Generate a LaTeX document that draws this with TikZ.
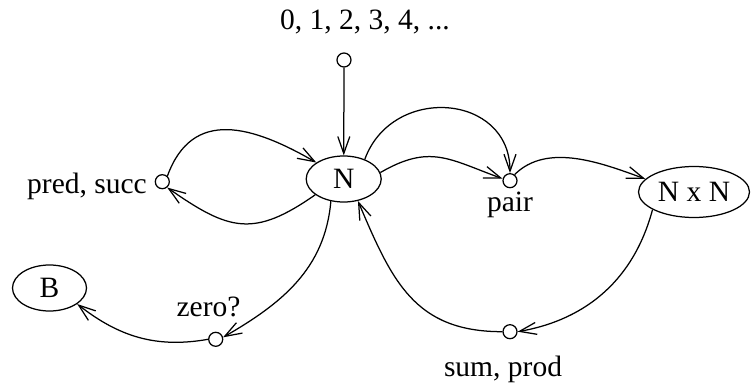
\documentclass[tikz,border=0pt]{standalone}
\usepackage{fontspec}
\setmainfont{Liberation Serif}
\usetikzlibrary{arrows.meta,shapes.geometric}
\begin{document}
\begin{tikzpicture}[x=1pt,y=1pt,
  every node/.append style={font=\fontsize{29.5}{35}\selectfont},
  conn/.style={line width=1.25pt,-{Straight Barb[length=17pt,width=12pt]}},
  dot/.style={circle,draw,line width=1.25pt,minimum size=14pt,inner sep=0pt},
  set/.style={ellipse,draw,line width=1.25pt,inner sep=0pt},
  lbl/.style={inner sep=0pt,anchor=base}]
\useasboundingbox (0,0) rectangle (751,386);
\node[lbl] (nums) at (365,356) {0, 1, 2, 3, 4, ...};
\node[dot] (c0) at (344,326) {};
\node[set,minimum width=75pt,minimum height=46pt] (N) at (343.7,207) {N};
\node[dot] (ps) at (162.3,204.3) {};
\node[lbl,anchor=base east] (pslbl) at (147,193) {pred, succ};
\node[dot] (pair) at (510,205.3) {};
\node[lbl] (pairlbl) at (510,175) {pair};
\node[set,minimum width=111pt,minimum height=51pt] (NN) at (694,194) {N x N};
\node[dot] (sp) at (510,54.3) {};
\node[lbl] (splbl) at (503,10) {sum, prod};
\node[dot] (zero) at (215.7,46.7) {};
\node[lbl] (zerolbl) at (208.5,69.3) {zero?};
\node[set,minimum width=74pt,minimum height=46pt] (B) at (49.5,98) {B};

\draw[conn] (c0) -- (N);
\draw[conn] (ps.48) to[out=70,in=150,looseness=1.25] (N.149);
\draw[conn] (N.209) to[out=215,in=-35,looseness=1.3] (ps.-50);
\draw[conn] (N.43) to[out=70,in=90,looseness=1.4] (pair.north);
\draw[conn] (N.10) to[out=30,in=160,looseness=1.2] (pair.165);
\draw[conn] (pair.53) to[out=45,in=160,looseness=0.9] (NN.165);
\draw[conn] (NN.203) to[out=255,in=10] (sp.east);
\draw[conn] (sp.west) to[out=180,in=-67,looseness=1.15] (N.-57);
\draw[conn] (N.-120) to[out=265,in=30] (zero.15);
\draw[conn] (zero.west) to[out=190,in=-38] (B.-30);
\end{tikzpicture}
\end{document}
